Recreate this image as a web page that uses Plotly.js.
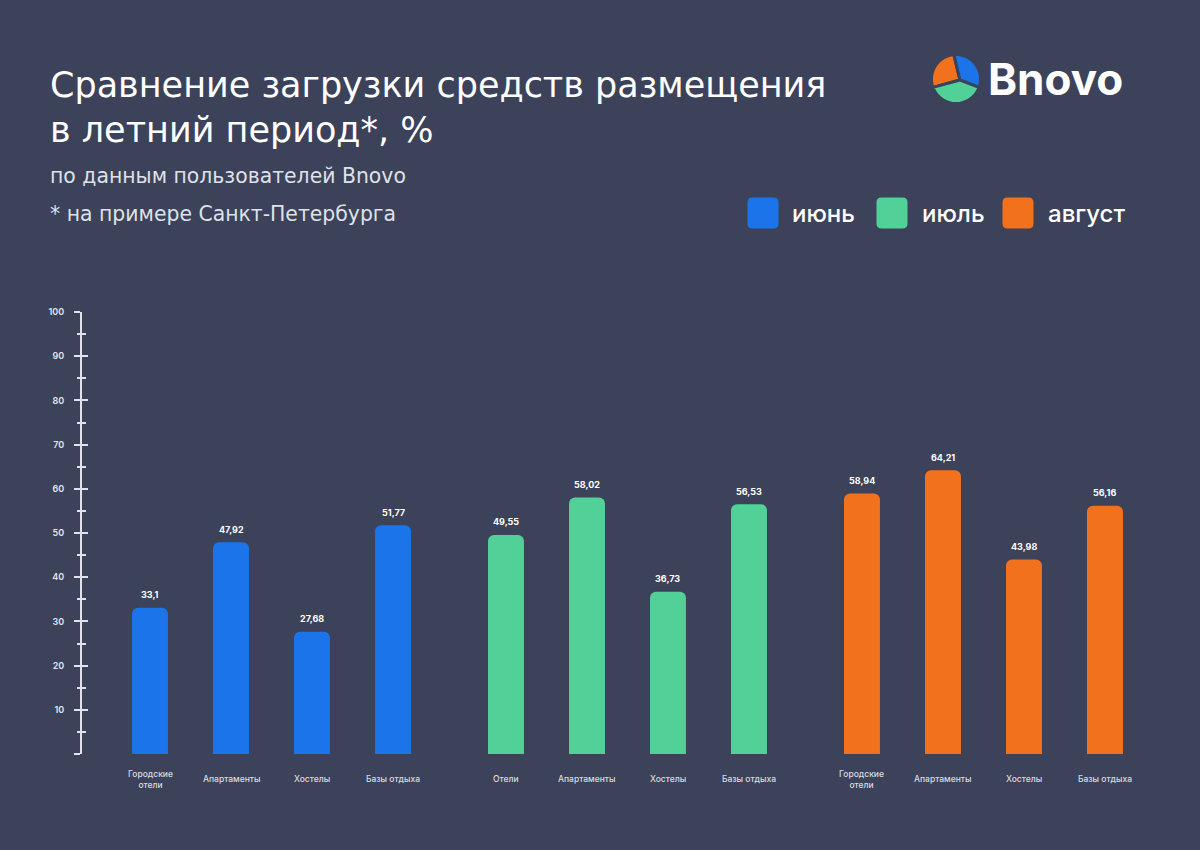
<!DOCTYPE html>
<html><head><meta charset="utf-8">
<script src="https://cdn.plot.ly/plotly-3.0.1.min.js"></script>
<style>html,body{margin:0;padding:0;background:#3c4259;}#chart{width:1200px;height:850px;}</style>
</head><body><div id="chart"></div>
<script>
// ---- data ----
const months = ['июнь', 'июль', 'август'];
const monthColors = ['#1b74ea', '#51d098', '#f2711d'];
const catsJune = ['Городские<br>отели', 'Апартаменты', 'Хостелы', 'Базы отдыха'];
const catsJuly = ['Отели', 'Апартаменты', 'Хостелы', 'Базы отдыха'];
const catsAug = ['Городские<br>отели', 'Апартаменты', 'Хостелы', 'Базы отдыха'];
const valsJune = [33.1, 47.92, 27.68, 51.77];
const valsJuly = [49.55, 58.02, 36.73, 56.53];
const valsAug = [58.94, 64.21, 43.98, 56.16];
const yTickVals = [0, 10, 20, 30, 40, 50, 60, 70, 80, 90, 100];
const yTickText = ['', '10', '20', '30', '40', '50', '60', '70', '80', '90', '100'];
const yMinorVals = [5, 15, 25, 35, 45, 55, 65, 75, 85, 95];
const titleLine1 = 'Сравнение загрузки средств размещения';
const titleLine2 = 'в летний период*, %';
const subtitle1 = 'по данным пользователей Bnovo';
const subtitle2 = '* на примере Санкт-Петербурга';
const brand = 'Bnovo';

// ---- layout helpers ----
const W = 1200, H = 850;
const px = x => x / W;
const py = y => 1 - y / H;
const GROUP_STEP = 4.395;
const BG = '#3c4259';
const AXIS_COL = '#dfe2ea';
const FONT = 'Inter, "Noto Sans", sans-serif';
const HFONT = '"DejaVu Sans", Inter, sans-serif';

const groups = [catsJune, catsJuly, catsAug];
const values = [valsJune, valsJuly, valsAug];
const fmt = v => String(v).replace('.', ',');

const traces = [];
const annotations = [];
groups.forEach((cats, g) => {
  const xs = cats.map((c, i) => g * GROUP_STEP + i);
  traces.push({
    type: 'bar', name: months[g], x: xs, y: values[g],
    width: 0.444, marker: {color: monthColors[g], cornerradius: 6, line: {width: 0}},
    hovertemplate: '%{y}<extra>' + months[g] + '</extra>'
  });
  cats.forEach((c, i) => {
    annotations.push({
      x: xs[i], y: values[g][i], xref: 'x', yref: 'y', text: fmt(values[g][i]),
      showarrow: false, yanchor: 'middle', yshift: 13,
      font: {family: FONT, size: 9, color: '#ffffff', weight: 700}
    });
    annotations.push({
      x: xs[i], y: py(779), xref: 'x', yref: 'paper', text: c,
      showarrow: false, yanchor: 'middle', xanchor: 'center', align: 'center',
      font: {family: FONT, size: 8.5, color: '#d9dce4', weight: 500}
    });
  });
});
// helper trace for the overlay axis
traces.push({type: 'scatter', x: [], y: [], yaxis: 'y2', showlegend: false, hoverinfo: 'skip'});

// titles
annotations.push({x: px(48), y: py(85), xref: 'paper', yref: 'paper', xanchor: 'left', yanchor: 'middle',
  text: titleLine1, showarrow: false, font: {family: HFONT, size: 35, color: '#ffffff', weight: 500}});
annotations.push({x: px(48), y: py(130), xref: 'paper', yref: 'paper', xanchor: 'left', yanchor: 'middle',
  text: titleLine2, showarrow: false, font: {family: HFONT, size: 35, color: '#ffffff', weight: 500}});
annotations.push({x: px(48), y: py(176), xref: 'paper', yref: 'paper', xanchor: 'left', yanchor: 'middle',
  text: subtitle1, showarrow: false, font: {family: HFONT, size: 20.4, color: '#dfe1e8', weight: 400}});
annotations.push({x: px(48), y: py(214), xref: 'paper', yref: 'paper', xanchor: 'left', yanchor: 'middle',
  text: subtitle2, showarrow: false, font: {family: HFONT, size: 20.4, color: '#dfe1e8', weight: 400}});
// brand
annotations.push({x: px(986), y: py(79), xref: 'paper', yref: 'paper', xanchor: 'left', yanchor: 'middle',
  text: brand, showarrow: false, font: {family: FONT, size: 44, color: '#ffffff', weight: 700}});

const shapes = [];
// custom legend
const legendSq = [763, 892, 1018];
const legendTx = [790, 920, 1046];
function roundRect(s, r) {
  const h = s / 2;
  return `M ${-h + r},${-h} L ${h - r},${-h} Q ${h},${-h} ${h},${-h + r} L ${h},${h - r} Q ${h},${h} ${h - r},${h} ` +
         `L ${-h + r},${h} Q ${-h},${h} ${-h},${h - r} L ${-h},${-h + r} Q ${-h},${-h} ${-h + r},${-h} Z`;
}
months.forEach((m, k) => {
  shapes.push({type: 'path', xref: 'paper', yref: 'paper', xsizemode: 'pixel', ysizemode: 'pixel',
    xanchor: px(legendSq[k]), yanchor: py(213), path: roundRect(31, 5),
    fillcolor: monthColors[k], line: {width: 0}, layer: 'above'});
  annotations.push({x: px(legendTx[k]), y: py(213), xref: 'paper', yref: 'paper', xanchor: 'left', yanchor: 'middle',
    text: m, showarrow: false, font: {family: FONT, size: 24, color: '#ffffff', weight: 500}});
});

// logo: three sectors of a circle
const LC = [956, 79], LR = 24.5, LD = [4, -1];
const logoSectors = [[95, 200, 2], [-20, 95, 0], [200, 340, 1]]; // [from, to, colorIndex]
logoSectors.forEach(([a0, a1, ci]) => {
  let p = `M ${LD[0]},${LD[1]}`;
  for (let a = a0; a <= a1; a += 5) {
    const t = a * Math.PI / 180;
    p += ` L ${(LR * Math.cos(t)).toFixed(2)},${(LR * Math.sin(t)).toFixed(2)}`;
  }
  p += ' Z';
  shapes.push({type: 'path', xref: 'paper', yref: 'paper', xsizemode: 'pixel', ysizemode: 'pixel',
    xanchor: px(LC[0]), yanchor: py(LC[1]), path: p,
    fillcolor: monthColors[ci], line: {color: BG, width: 3}, layer: 'above'});
});

const yCommon = {
  range: [0, 100], showgrid: false, zeroline: false, fixedrange: true,
  tickmode: 'array', tickvals: yTickVals, ticklen: 6, tickwidth: 2, tickcolor: AXIS_COL
};

const layout = {
  width: W, height: H,
  paper_bgcolor: BG, plot_bgcolor: BG,
  margin: {l: 0, r: 0, t: 0, b: 0},
  showlegend: false,
  xaxis: {domain: [px(82), px(1162)], range: [-0.8395, 12.494], showgrid: false, zeroline: false,
    showticklabels: false, showline: false, ticks: '', fixedrange: true},
  yaxis: Object.assign({}, yCommon, {
    domain: [1 - 754 / H, 1 - 312 / H], anchor: 'x',
    showline: true, linecolor: AXIS_COL, linewidth: 2,
    ticks: 'outside', ticktext: yTickText, ticklabelstandoff: 8,
    tickfont: {family: FONT, size: 9, color: '#e3e5ec', weight: 600},
    minor: {tickmode: 'array', tickvals: yMinorVals, ticks: 'outside', ticklen: 3.5, tickwidth: 2, tickcolor: AXIS_COL}
  }),
  yaxis2: Object.assign({}, yCommon, {
    overlaying: 'y', anchor: 'x', side: 'left', showline: false,
    ticks: 'inside', showticklabels: false,
    minor: {tickmode: 'array', tickvals: yMinorVals, ticks: 'inside', ticklen: 3.5, tickwidth: 2, tickcolor: AXIS_COL}
  }),
  annotations: annotations,
  shapes: shapes
};

Plotly.newPlot('chart', traces, layout, {displayModeBar: false, staticPlot: true});
</script>
</body></html>
